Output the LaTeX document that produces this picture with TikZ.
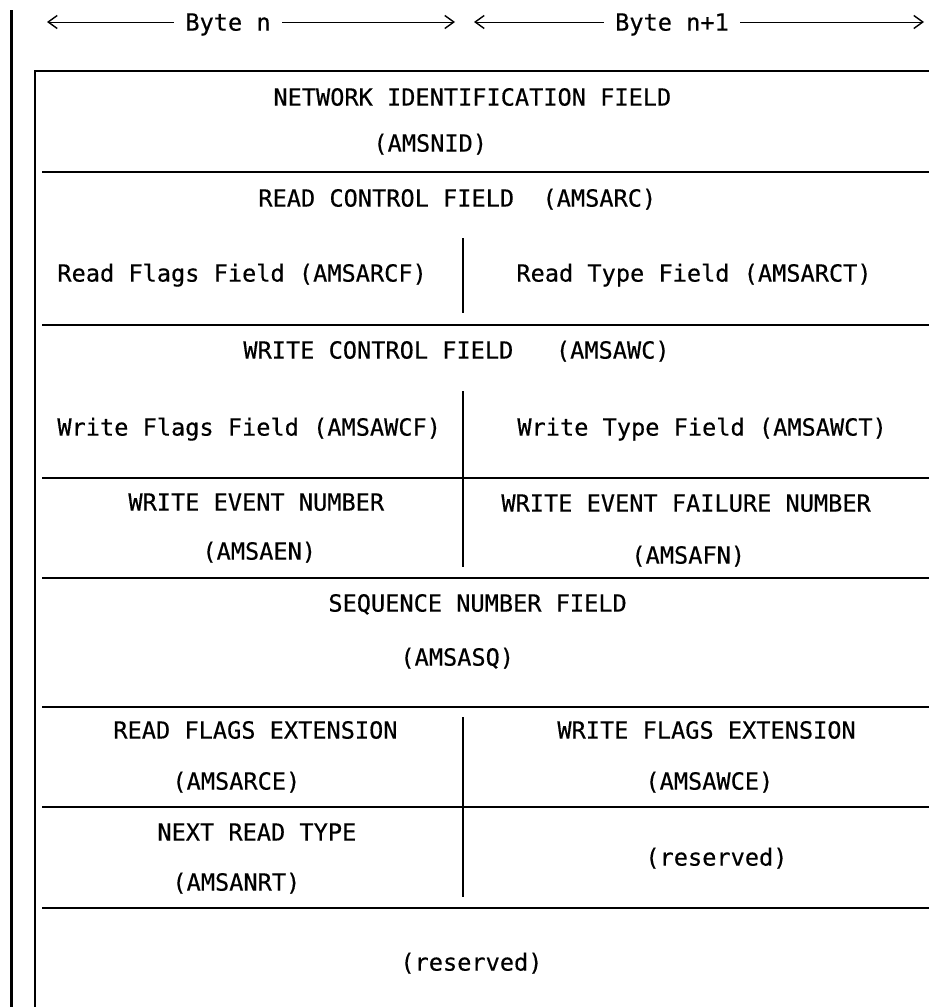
\documentclass[tikz,border=0pt]{standalone}
\usepackage{fontspec}
\newfontfamily\formfont[FakeBold=0.4]{DejaVu Sans Mono}
\usetikzlibrary{arrows.meta}
\tikzset{
    changebar/.style={line width=1.5pt},
    frame/.style={line width=0.85pt, line join=miter},
    rule/.style={line width=0.75pt},
    divider/.style={line width=0.7pt},
    field/.style={inner sep=0pt, text height=8.6pt, text depth=0pt, anchor=west},
    bytehead/.style={inner xsep=5.5pt, inner ysep=0pt, text height=8.6pt, text depth=0pt},
    bytearrow/.style={line width=0.5pt, -{Straight Barb[length=4.5pt, width=6.5pt, line width=0.7pt]}},
    common settings/.style={
        font=\formfont\fontsize{11.8pt}{14pt}\selectfont,
        x={(0.5pt, 0pt)},
        y={(0pt, -0.5pt)}
    }
}
\begin{document}
\begin{tikzpicture}[common settings]

    \useasboundingbox (0,0) rectangle (929,1007);

    % Change bar and frame
    \draw[changebar] (11,10) -- (11,1007);
    \draw[frame] (35,1007) -- (35,71) -- (929,71);

    % Byte header
    \coordinate (bn-l) at (47,22);
    \coordinate (bn-r) at (455,22);
    \coordinate (bm-l) at (474,22);
    \coordinate (bm-r) at (924,22);
    \node[bytehead] (bn) at (228,22) {Byte n};
    \node[bytehead] (bm) at (672,22) {Byte n+1};
    \draw[bytearrow] (bn.west) -- (bn-l);
    \draw[bytearrow] (bn.east) -- (bn-r);
    \draw[bytearrow] (bm.west) -- (bm-l);
    \draw[bytearrow] (bm.east) -- (bm-r);

    % Field separators
    \draw[rule] (42,172) -- (929,172); % below AMSNID
    \draw[rule] (42,325) -- (929,325); % below AMSARC
    \draw[rule] (42,478) -- (929,478); % below AMSAWC
    \draw[rule] (42,578) -- (929,578); % below AMSAEN / AMSAFN
    \draw[rule] (42,707) -- (929,707); % below AMSASQ
    \draw[rule] (42,807) -- (929,807); % below AMSARCE / AMSAWCE
    \draw[rule] (42,908) -- (929,908); % below AMSANRT

    % Byte boundary
    \draw[divider] (463,238) -- (463,313);
    \draw[divider] (463,391) -- (463,567);
    \draw[divider] (463,717) -- (463,897);

    % Field names
    \node[field] (nid)     at (273,97)  {NETWORK IDENTIFICATION FIELD};
    \node[field] (nid-a)   at (373,143) {(AMSNID)};
    \node[field] (rc)      at (258,198) {READ CONTROL FIELD~~(AMSARC)};
    \node[field] (rcf)     at (57,273)  {Read Flags Field (AMSARCF)};
    \node[field] (rct)     at (516,273) {Read Type Field (AMSARCT)};
    \node[field] (wc)      at (243,350) {WRITE CONTROL FIELD~~~(AMSAWC)};
    \node[field] (wcf)     at (57,427)  {Write Flags Field (AMSAWCF)};
    \node[field] (wct)     at (517,427) {Write Type Field (AMSAWCT)};
    \node[field] (en)      at (128,502) {WRITE EVENT NUMBER};
    \node[field] (en-a)    at (202,551) {(AMSAEN)};
    \node[field] (fn)      at (501,503) {WRITE EVENT FAILURE NUMBER};
    \node[field] (fn-a)    at (631,555) {(AMSAFN)};
    \node[field] (sq)      at (328,603) {SEQUENCE NUMBER FIELD};
    \node[field] (sq-a)    at (400,657) {(AMSASQ)};
    \node[field] (rce)     at (113,730) {READ FLAGS EXTENSION};
    \node[field] (rce-a)   at (172,781) {(AMSARCE)};
    \node[field] (wce)     at (557,730) {WRITE FLAGS EXTENSION};
    \node[field] (wce-a)   at (645,781) {(AMSAWCE)};
    \node[field] (nrt)     at (157,832) {NEXT READ TYPE};
    \node[field] (nrt-a)   at (172,882) {(AMSANRT)};
    \node[field] (rsv-r)   at (645,857) {(reserved)};
    \node[field] (rsv-b)   at (400,962) {(reserved)};

\end{tikzpicture}
\end{document}
